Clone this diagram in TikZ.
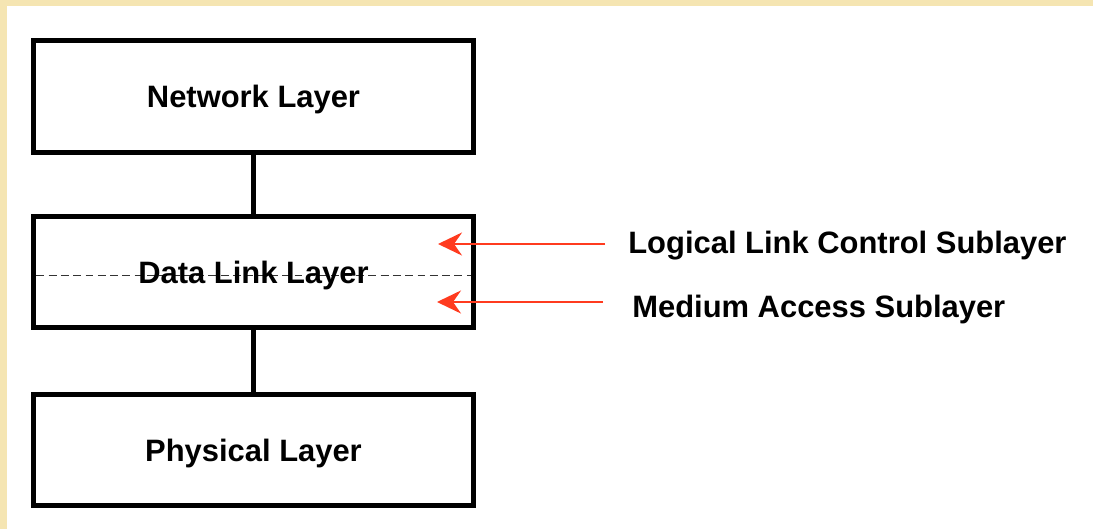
\documentclass[tikz,border=0pt]{standalone}
\usepackage{fontspec}
\setmainfont{Liberation Sans}
\usepackage{xcolor}
\usepackage{tikz}
\usetikzlibrary{arrows.meta,positioning}
\definecolor{osiPaper}{HTML}{F5E5B2}
\definecolor{osiInk}{HTML}{000000}
\definecolor{osiDash}{HTML}{333333}
\definecolor{osiRed}{HTML}{FF3B1F}
\tikzset{
  osi diagram/.style={font=\bfseries\fontsize{17.6pt}{21pt}\selectfont, text=osiInk},
  osi box/.style={draw=osiInk, fill=white, line width=0.1cm,
    minimum width=8.8cm, minimum height=2.24cm, inner sep=0pt, text depth=0pt},
  osi link/.style={draw=osiInk, line width=0.1cm},
  osi split/.style={draw=osiDash, line width=1pt, dash pattern=on 4.5pt off 2.5pt},
  osi arrow/.style={-{Stealth[length=0.48cm, width=0.46cm, inset=0.16cm]},
    draw=osiRed, line width=1.6pt},
  osi label/.style={anchor=west, inner sep=0pt, text depth=0pt}
}
\begin{document}
\begin{tikzpicture}[osi diagram,x=0.02cm,y=0.02cm]
% page with the yellow frame on top and left
\fill[osiPaper] (0,0) rectangle (1093,529);
\fill[white] (7,0) rectangle (1093,523);
\useasboundingbox (0,0) rectangle (1093,529);

% the three layers
\node[osi box] (net) at (253.5,432.5) {Network Layer};
\node[osi box] (dll) at (253.5,257) {};
\node[osi box] (phy) at (253.5,79) {Physical Layer};
\draw[osi link] (net.south) -- (dll.north);
\draw[osi link] (dll.south) -- (phy.north);

% split of the data link layer
\draw[osi split] ([xshift=3pt,yshift=-2pt]dll.west) -- ([xshift=-3pt,yshift=-2pt]dll.east);
\node[text depth=0pt] at (dll.center) {Data Link Layer};

% sublayers
\node[osi label] (llc) at (628,287) {Logical Link Control Sublayer};
\node[osi label] (mac) at (632,223) {Medium Access Sublayer};
\coordinate (llcTip) at (438,285);
\coordinate (macTip) at (437,227);
\draw[osi arrow, shorten <=0.46cm] (llc.west |- llcTip) -- (llcTip);
\draw[osi arrow, shorten <=0.58cm] (mac.west |- macTip) -- (macTip);
\end{tikzpicture}
\end{document}
